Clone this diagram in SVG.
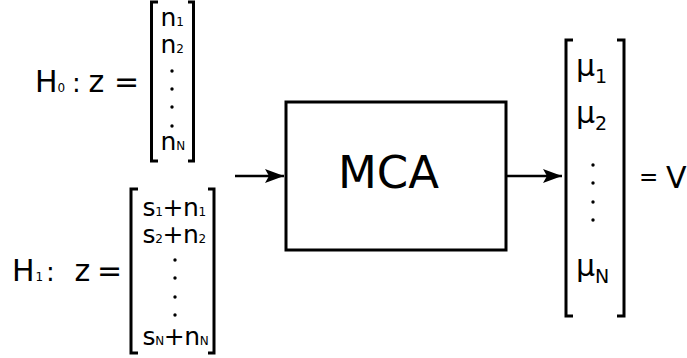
<svg xmlns="http://www.w3.org/2000/svg" width="687" height="358" viewBox="0 0 687 358">
<style>
text{font-family:"DejaVu Sans","Liberation Sans",sans-serif;fill:#000}
.br{fill:none;stroke:#000;stroke-width:3}
.ln{fill:none;stroke:#000;stroke-width:2.5}
.big{font-size:30px}
.ent{font-size:25px}
.sub{font-size:12px}
.mu{font-size:30px}
.musub{font-size:19px}
</style>
<defs>
<marker id="ah" markerUnits="userSpaceOnUse" markerWidth="22" markerHeight="16" refX="19" refY="7" orient="auto" viewBox="0 0 22 16">
<path d="M0,0 L19,7 L0,14 L4,7 Z" fill="#000"/>
</marker>
</defs>
<g id="h0">
<text class="big" y="92"><tspan x="35">H</tspan><tspan class="sub" x="57.5">0</tspan><tspan x="72" font-size="26">:</tspan><tspan x="88.5">z</tspan><tspan x="114">=</tspan></text>
<path class="br" d="M158,2 H151.5 V161 H158 M188,2 H193.5 V161 H188"/>
<text class="ent" x="160.5" y="26">n<tspan class="sub">1</tspan></text>
<text class="ent" x="160.5" y="53">n<tspan class="sub">2</tspan></text>
<circle cx="172" cy="71" r="1.7"/><circle cx="172" cy="89" r="1.7"/><circle cx="172" cy="107" r="1.7"/><circle cx="172" cy="126" r="1.7"/>
<text class="ent" x="160.5" y="150">n<tspan class="sub">N</tspan></text>
</g>
<g id="h1">
<text class="big" y="281"><tspan x="12">H</tspan><tspan class="sub" x="35.5">1</tspan><tspan x="46" font-size="26">:</tspan><tspan x="74.5">z</tspan><tspan x="97">=</tspan></text>
<path class="br" d="M138,189 H131 V353 H138 M208,189 H214 V353 H208"/>
<text class="ent" x="142.5" y="216" letter-spacing="-0.4">s<tspan class="sub">1</tspan>+n<tspan class="sub">1</tspan></text>
<text class="ent" x="142.5" y="243" letter-spacing="-0.4">s<tspan class="sub">2</tspan>+n<tspan class="sub">2</tspan></text>
<circle cx="175" cy="260" r="1.7"/><circle cx="175" cy="278" r="1.7"/><circle cx="175" cy="297" r="1.7"/><circle cx="175" cy="315" r="1.7"/>
<text class="ent" x="142.5" y="345" letter-spacing="-0.4">s<tspan class="sub">N</tspan>+n<tspan class="sub">N</tspan></text>
</g>
<g id="mca">
<rect x="286" y="102" width="220" height="148" fill="#fff" stroke="#000" stroke-width="3"/>
<text x="338" y="188" font-size="45">MCA</text>
</g>
<g id="out">
<path class="br" d="M573,40 H566 V316 H573 M617,40 H624 V316 H617"/>
<text class="mu" x="576" y="76">μ<tspan class="musub" dy="7">1</tspan></text>
<text class="mu" x="576" y="123">μ<tspan class="musub" dy="7">2</tspan></text>
<circle cx="593" cy="165" r="1.7"/><circle cx="593" cy="183" r="1.7"/><circle cx="593" cy="202" r="1.7"/><circle cx="593" cy="220" r="1.7"/>
<text class="mu" x="576" y="276">μ<tspan class="musub" dy="7">N</tspan></text>
<text x="639" y="185" font-size="23">=</text>
<text x="666" y="188" font-size="30">V</text>
</g>
<g id="connectors">
<path class="ln" d="M235,176 H284" marker-end="url(#ah)"/>
<path class="ln" d="M507,176 H562" marker-end="url(#ah)"/>
</g>
</svg>
